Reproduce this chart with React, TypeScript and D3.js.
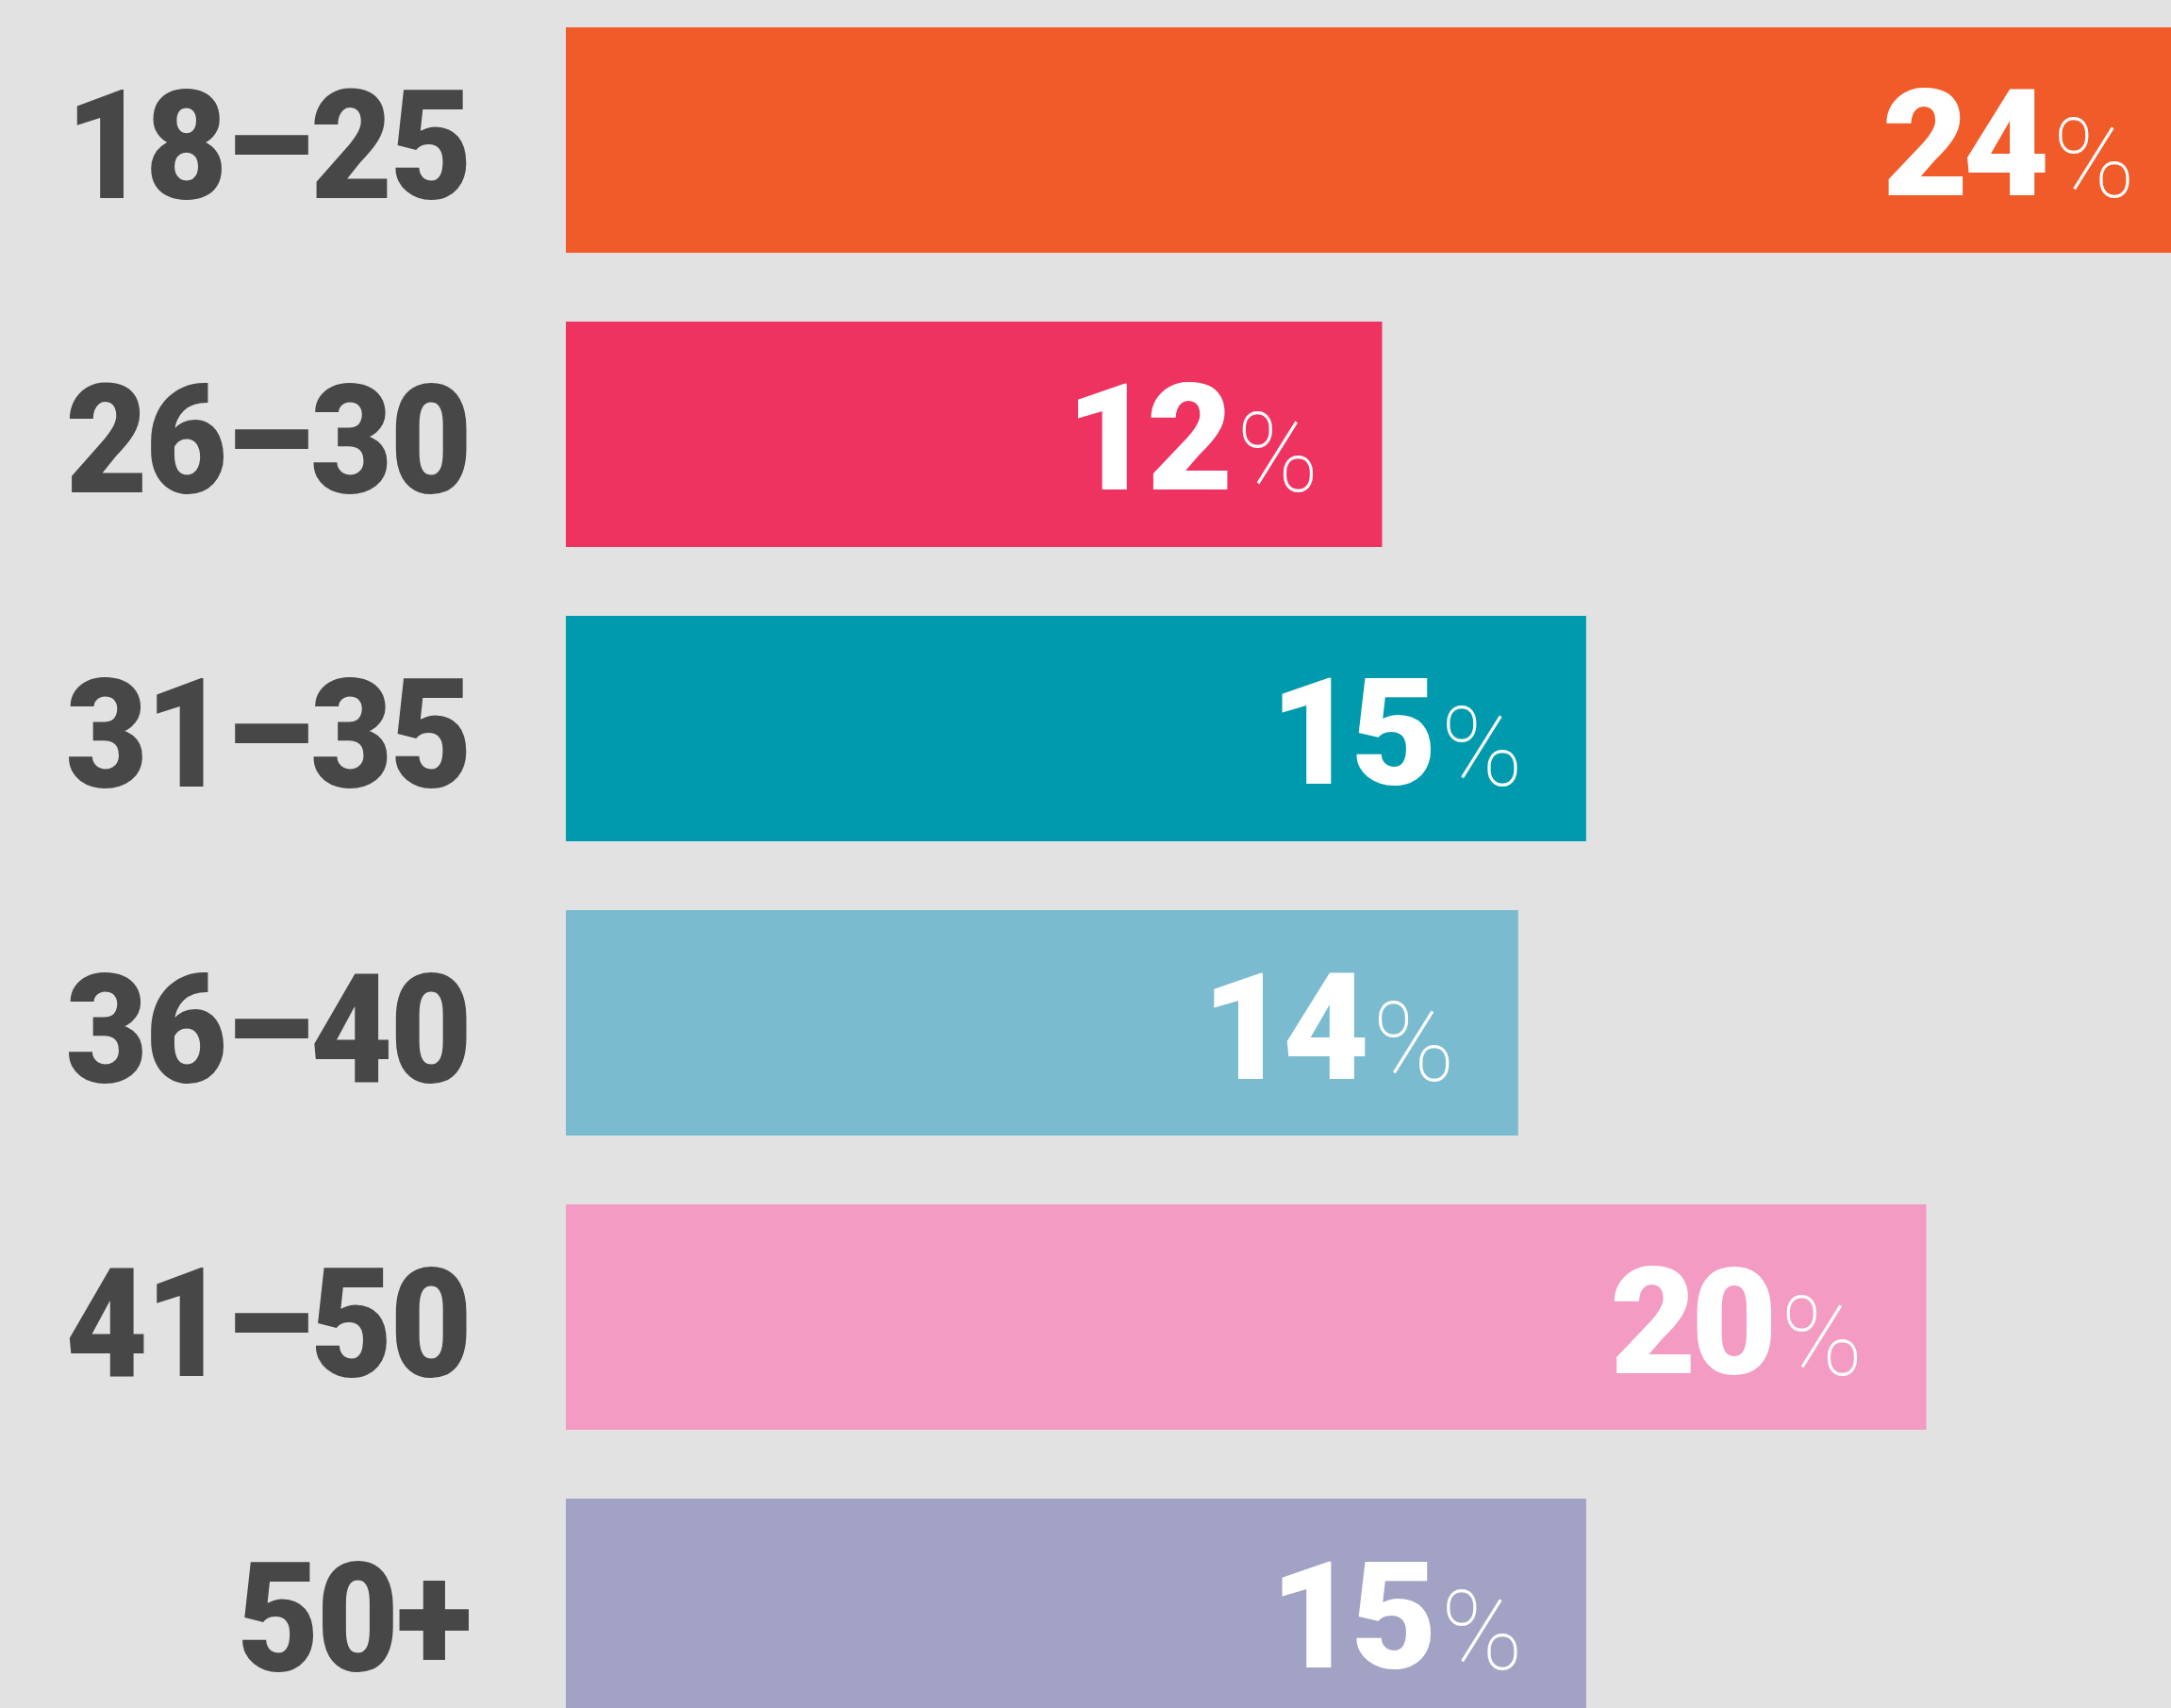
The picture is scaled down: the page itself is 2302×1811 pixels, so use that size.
import React from "react";
import * as d3 from "d3";

const categories = ["18–25", "26–30", "31–35", "36–40", "41–50", "50+"];
const values = [24, 12, 15, 14, 20, 15];
const colors = ["#F15A29", "#EF3361", "#009AAE", "#7BBBD0", "#F39BC2", "#A2A3C4"];

const W = 2302;
const H = 1811;

export default function App() {
  const x = d3.scaleLinear().domain([0, 24]).range([600, 2331]);
  const y = d3
    .scaleBand<string>()
    .domain(categories)
    .range([29, 29 + 5 * 312 + 239])
    .paddingInner(0.234)
    .paddingOuter(0);
  const bw = y.bandwidth();
  return (
    <svg
      width={W}
      height={H}
      viewBox={`0 0 ${W} ${H}`}
      style={{ position: "absolute", left: 0, top: 0, display: "block" }}
    >
      <rect x={0} y={0} width={W} height={H} fill="#E2E2E2" />
      {categories.map((c, i) => {
        const y0 = y(c) as number;
        const cy = y0 + bw / 2;
        const end = x(values[i]) - 67;
        return (
          <g key={c}>
            <rect x={x(0)} y={y0} width={x(values[i]) - x(0)} height={bw} fill={colors[i]} />
            <text
              transform={`translate(498, ${cy + 62}) scale(0.93, 1)`}
              textAnchor="end"
              fill="#474747"
              fontFamily="Roboto, sans-serif"
              fontWeight={900}
              fontSize={162}
              letterSpacing={-3}
            >
              {c}
            </text>
            <text
              x={end}
              y={cy + 61}
              textAnchor="end"
              fill="#FFFFFF"
              fontFamily="Roboto, sans-serif"
              fontWeight={100}
              fontSize={117}
            >
              %
            </text>
            <text
              x={end - 97}
              y={cy + 59}
              textAnchor="end"
              fill="#FFFFFF"
              fontFamily="Roboto, sans-serif"
              fontWeight={900}
              fontSize={158}
              letterSpacing={-6}
            >
              {values[i]}
            </text>
          </g>
        );
      })}
    </svg>
  );
}
